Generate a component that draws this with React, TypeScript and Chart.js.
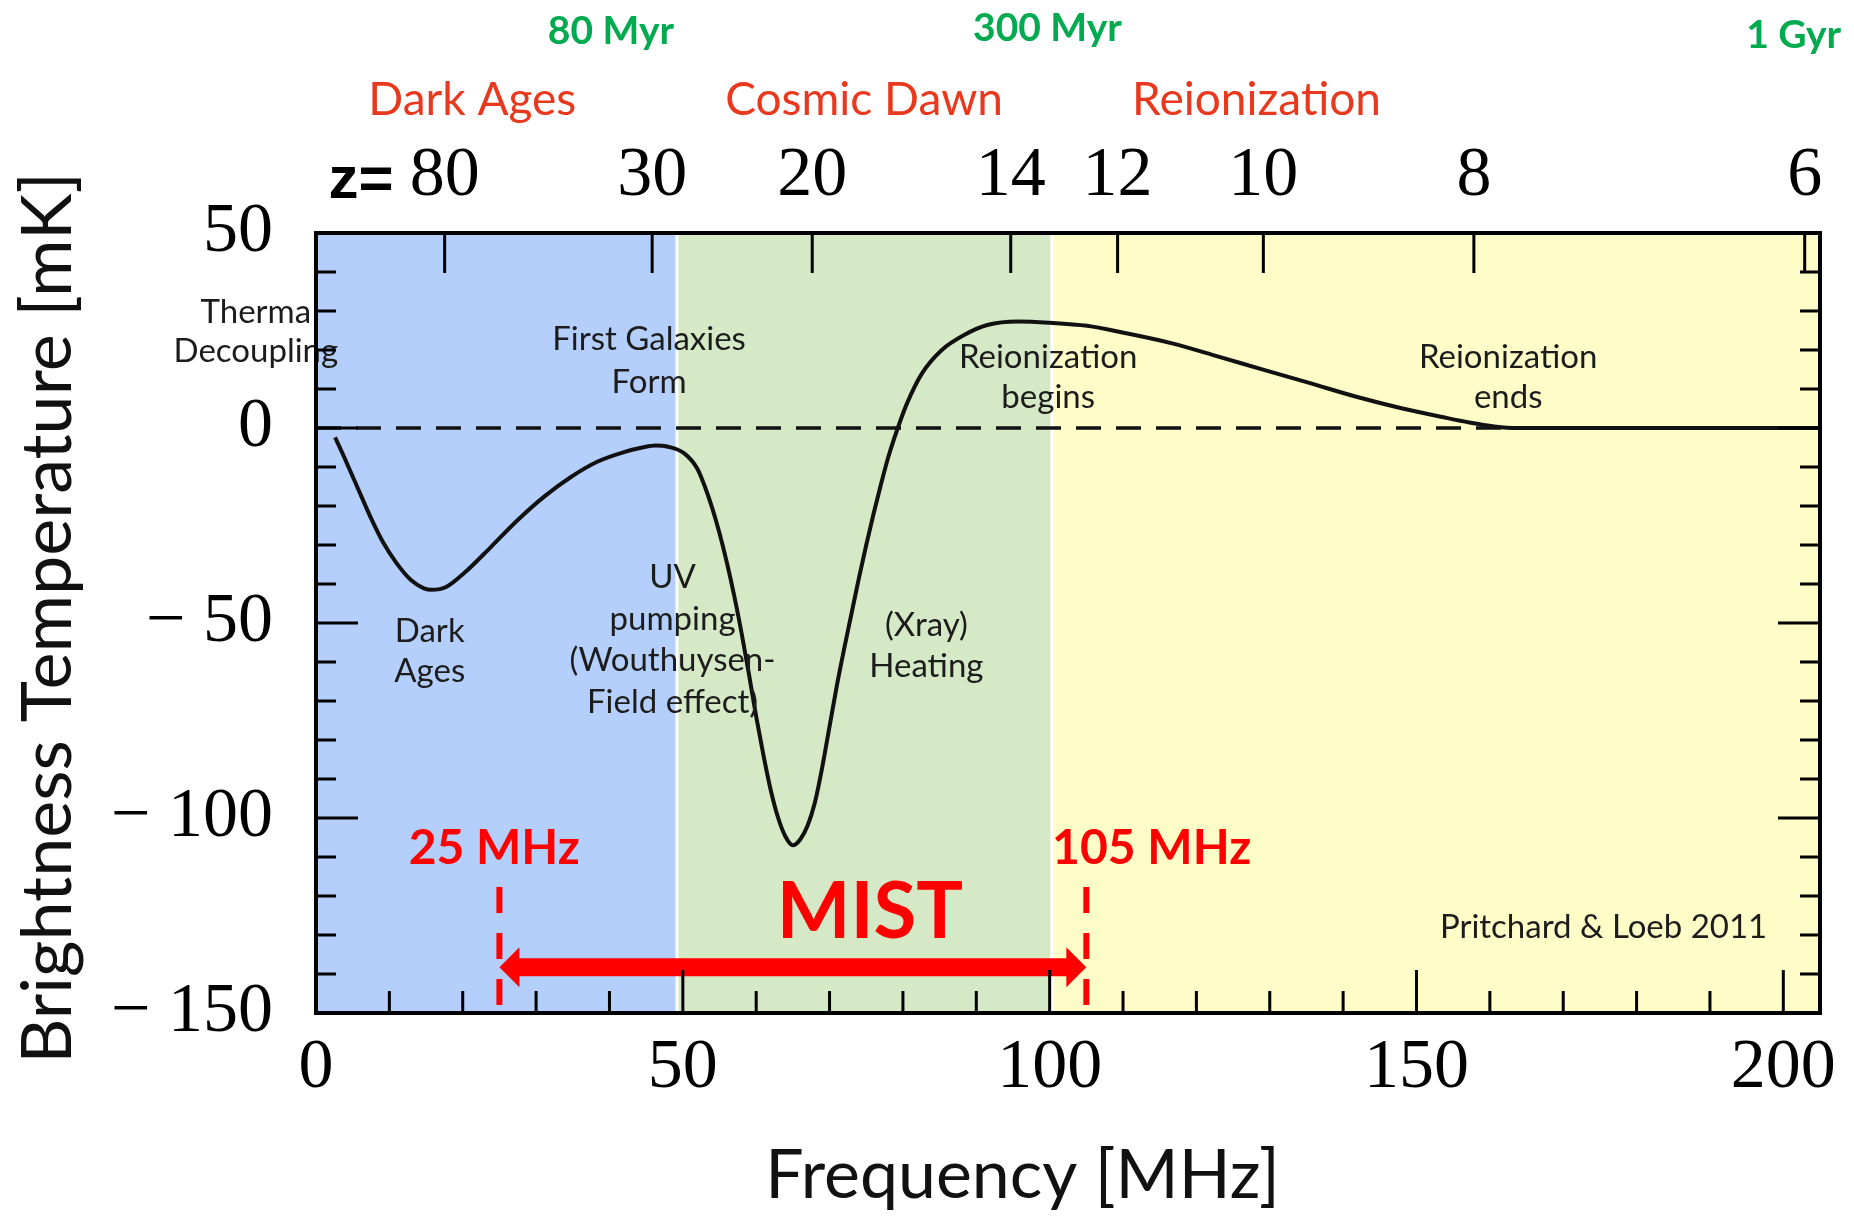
import React, { useEffect, useRef } from "react";
import { Chart, registerables } from "chart.js";

Chart.register(...registerables);

const W = 1854;
const H = 1225;

// ---------------- data ----------------
const curveFreqMHz = [
  2.6, 3.8, 5.6, 7.4, 9.2, 11, 12.9, 14.7, 15.8, 17.8, 20.2, 23.9, 27.5, 31.1,
  34.8, 38.4, 42.1, 44.5, 46.3, 48, 50.2, 52, 53, 54, 55, 56, 57, 58, 59, 60,
  61, 62, 63, 64, 65, 66, 67, 68, 69, 70, 71, 72, 73, 74, 75, 76, 77, 78, 79.3,
  80.6, 82.6, 85.3, 88.4, 91.5, 95.7, 99.9, 105.1, 110.4, 116.7, 123, 129.2,
  135.5, 141.8, 148.1, 153.3, 157.2, 160.6, 163.8, 205,
];
const curveTempMK = [
  -2.4, -7.3, -15, -22.7, -29.5, -34.7, -38.9, -41.1, -41.5, -40.7, -37.2,
  -30.4, -23.6, -17.6, -12.5, -8.6, -6.1, -5, -4.5, -4.8, -6.5, -10.5, -15,
  -20.5, -27, -34.5, -43, -52.5, -63, -74, -84, -93, -100, -104.8, -107,
  -105.5, -102, -96, -87, -76.5, -66, -56.5, -47.5, -38.5, -30, -22, -14.5,
  -7.5, 0, 6.5, 14, 20, 23.9, 26.4, 27.3, 27, 26.2, 24.3, 21.7, 18.3, 14.9,
  11.5, 8, 5, 2.9, 1.4, 0.4, 0, 0,
];
const zeroLineFreqMHz = [0, 164];
const zeroLineTempMK = [0, 0];
const mistBandMHz = [25, 105];
const mistDashTempMK = [-117.7, -148.2];
const mistArrowTempMK = -138.3;

const xTickValues = [0, 50, 100, 150, 200];
const xMinorTickValues = [
  0, 10, 20, 30, 40, 50, 60, 70, 80, 90, 100, 110, 120, 130, 140, 150, 160,
  170, 180, 190, 200,
];
const yTickValues = [50, 0, -50, -100, -150];
const yMinorTickValues = [
  50, 40, 30, 20, 10, 0, -10, -20, -30, -40, -50, -60, -70, -80, -90, -100,
  -110, -120, -130, -140, -150,
];
const redshiftTicks = [80, 30, 20, 14, 12, 10, 8, 6];
const HI_REST_MHZ = 1420.4;

const eraEdgesMHz = [0, 49.2, 100.3, 205];
const eraNames = ["Dark Ages", "Cosmic Dawn", "Reionization"];
const eraLabelMHz = [21.3, 74.7, 128.2];
const cosmicAges = ["80 Myr", "300 Myr", "1 Gyr"];
const cosmicAgeMHz = [40.2, 99.7, 201.4];

const noteTexts = [
  ["Therma", "Decoupling"],
  ["First Galaxies", "Form"],
  ["Dark", "Ages"],
  ["UV", "pumping", "(Wouthuysen-", "Field effect)"],
  ["(Xray)", "Heating"],
  ["Reionization", "begins"],
  ["Reionization", "ends"],
  ["Pritchard & Loeb 2011"],
];
// anchor (MHz, mK of first baseline)
const noteAnchorMHz = [-8.2, 45.4, 15.5, 48.6, 83.2, 99.8, 162.5, 175.5];
const noteAnchorMK = [26.9, 20, -54.9, -41, -53.4, 15.5, 15.5, -130.8];

// ---------------- styles / layout ----------------
const LINE_GAP = [39, 42.6, 40, 41.7, 41, 40.5, 40.5, 0];
const AGE_BASELINE = [44, 41, 48];
const ERA_BASELINE = 115;
const COLORS = {
  eras: ["#B4CFFC", "#D6E9C6", "#FFFDC7"],
  curve: "#111111",
  red: "#FF0000",
  era: "#E8381E",
  age: "#00AA4E",
  note: "#1c1c1c",
};
const TICK_FONT = { family: "'Liberation Serif', serif", size: 70 };

const decorPlugin = {
  id: "decor",
  beforeDatasetsDraw(chart: any) {
    const { ctx, chartArea: ca, scales } = chart;
    const x = scales.x;
    ctx.save();
    for (let i = 0; i < COLORS.eras.length; i++) {
      let x0 = x.getPixelForValue(eraEdgesMHz[i]);
      let x1 = x.getPixelForValue(eraEdgesMHz[i + 1]);
      x0 = Math.max(x0, ca.left);
      x1 = Math.min(x1, ca.right);
      if (i > 0) x0 += 1.5;
      if (i < COLORS.eras.length - 1) x1 -= 1.5;
      ctx.fillStyle = COLORS.eras[i];
      ctx.fillRect(x0, ca.top, x1 - x0, ca.bottom - ca.top);
    }
    ctx.restore();
  },
  afterDatasetsDraw(chart: any) {
    const { ctx, chartArea: ca, scales } = chart;
    const x = scales.x;
    const y = scales.y;
    const xTop = scales.xTop;
    ctx.save();

    // in-plot notes
    ctx.fillStyle = COLORS.note;
    ctx.font = "33px Lato";
    ctx.textAlign = "center";
    ctx.textBaseline = "alphabetic";
    noteTexts.forEach((lines, i) => {
      const px = x.getPixelForValue(noteAnchorMHz[i]);
      const py = y.getPixelForValue(noteAnchorMK[i]);
      lines.forEach((ln, j) => ctx.fillText(ln, px, py + j * LINE_GAP[i]));
    });

    // MIST arrow
    const xL = x.getPixelForValue(mistBandMHz[0]);
    const xR = x.getPixelForValue(mistBandMHz[1]);
    const yA = y.getPixelForValue(mistArrowTempMK);
    const hl = 20, hh = 20, st = 9;
    ctx.fillStyle = COLORS.red;
    ctx.beginPath();
    ctx.moveTo(xL, yA);
    ctx.lineTo(xL + hl, yA - hh);
    ctx.lineTo(xL + hl, yA - st);
    ctx.lineTo(xR - hl, yA - st);
    ctx.lineTo(xR - hl, yA - hh);
    ctx.lineTo(xR, yA);
    ctx.lineTo(xR - hl, yA + hh);
    ctx.lineTo(xR - hl, yA + st);
    ctx.lineTo(xL + hl, yA + st);
    ctx.lineTo(xL + hl, yA + hh);
    ctx.closePath();
    ctx.fill();

    // red labels
    ctx.font = "bold 48px Lato";
    const labY = y.getPixelForValue(-111.8);
    ctx.fillText(`${mistBandMHz[0]} MHz`, x.getPixelForValue(24.3), labY);
    ctx.fillText(`${mistBandMHz[1]} MHz`, x.getPixelForValue(113.9), labY);
    ctx.font = "bold 78px Lato";
    ctx.fillText("MIST", x.getPixelForValue(75.5), y.getPixelForValue(-130.8));

    // ticks
    ctx.strokeStyle = "#000";
    ctx.lineWidth = 3;
    ctx.beginPath();
    xMinorTickValues.forEach((v) => {
      const len = xTickValues.includes(v) ? 43 : 22;
      const px = x.getPixelForValue(v);
      ctx.moveTo(px, ca.bottom);
      ctx.lineTo(px, ca.bottom - len);
    });
    xTop.ticks.forEach((t: any) => {
      const px = xTop.getPixelForValue(t.value);
      ctx.moveTo(px, ca.top);
      ctx.lineTo(px, ca.top + 40);
    });
    yMinorTickValues.forEach((v) => {
      const len = yTickValues.includes(v) ? 42 : 20;
      const py = y.getPixelForValue(v);
      ctx.moveTo(ca.left, py);
      ctx.lineTo(ca.left + len, py);
      ctx.moveTo(ca.right, py);
      ctx.lineTo(ca.right - len, py);
    });
    ctx.stroke();
    ctx.lineWidth = 4;
    ctx.strokeRect(ca.left, ca.top, ca.right - ca.left, ca.bottom - ca.top);

    // "z=" prefix before first redshift label
    ctx.font = `${TICK_FONT.size}px ${TICK_FONT.family}`;
    const firstLabel = String(redshiftTicks[0]);
    const halfW = ctx.measureText(firstLabel).width / 2;
    const firstPx = xTop.getPixelForValue(HI_REST_MHZ / (1 + redshiftTicks[0]));
    ctx.font = "bold 60px 'Liberation Sans'";
    ctx.fillStyle = "#000";
    ctx.textAlign = "right";
    ctx.fillText("z=", firstPx - halfW - 16, 198);

    // epoch labels above
    ctx.textAlign = "center";
    ctx.font = "46px Lato";
    ctx.fillStyle = COLORS.era;
    eraNames.forEach((n, i) => ctx.fillText(n, x.getPixelForValue(eraLabelMHz[i]), ERA_BASELINE));
    ctx.font = "bold 39px Lato";
    ctx.fillStyle = COLORS.age;
    cosmicAges.forEach((n, i) => ctx.fillText(n, x.getPixelForValue(cosmicAgeMHz[i]), AGE_BASELINE[i]));

    // axis titles
    ctx.fillStyle = "#111";
    ctx.font = "68px Lato";
    ctx.fillText("Frequency [MHz]", x.getPixelForValue(96.3), ca.bottom + 185);
    ctx.save();
    ctx.translate(71, y.getPixelForValue(-48.7));
    ctx.rotate(-Math.PI / 2);
    ctx.font = "70px Lato";
    ctx.fillText("Brightness Temperature [mK]", 0, 0);
    ctx.restore();

    ctx.restore();
  },
};

export default function App() {
  const ref = useRef<HTMLCanvasElement | null>(null);
  useEffect(() => {
    let chart: Chart | null = null;
    let cancelled = false;
    const fonts = ["33px Lato", "bold 48px Lato", "70px 'Liberation Serif'", "bold 60px 'Liberation Sans'"];
    Promise.all(fonts.map((f) => (document as any).fonts.load(f).catch(() => null))).then(() => {
      if (cancelled || !ref.current) return;
      const xy = (xs: number[], ys: number[]) => xs.map((v, i) => ({ x: v, y: ys[i] }));
      chart = new Chart(ref.current, {
        type: "scatter",
        data: {
          datasets: [
            {
              data: xy(curveFreqMHz, curveTempMK),
              showLine: true,
              borderColor: COLORS.curve,
              borderWidth: 4,
              pointRadius: 0,
              cubicInterpolationMode: "monotone",
            },
            {
              data: xy(zeroLineFreqMHz, zeroLineTempMK),
              showLine: true,
              borderColor: "#111",
              borderWidth: 3.5,
              borderDash: [25, 15],
              pointRadius: 0,
            },
            {
              data: xy([mistBandMHz[0], mistBandMHz[0]], mistDashTempMK),
              showLine: true,
              borderColor: COLORS.red,
              borderWidth: 6,
              borderDash: [26, 20],
              pointRadius: 0,
            },
            {
              data: xy([mistBandMHz[1], mistBandMHz[1]], mistDashTempMK),
              showLine: true,
              borderColor: COLORS.red,
              borderWidth: 6,
              borderDash: [26, 20],
              pointRadius: 0,
            },
          ],
        } as any,
        options: {
          responsive: false,
          animation: false,
          events: [],
          layout: { padding: { left: 0, right: 34, top: 0, bottom: 0 } },
          plugins: { legend: { display: false }, tooltip: { enabled: false } },
          scales: {
            x: {
              type: "linear",
              position: "bottom",
              min: 0,
              max: 205,
              grid: { display: false, drawTicks: false },
              border: { display: false },
              afterBuildTicks: (s: any) => {
                s.ticks = xTickValues.map((v) => ({ value: v }));
              },
              afterFit: (s: any) => {
                s.height = 212;
              },
              ticks: {
                autoSkip: false,
                maxRotation: 0,
                padding: 14,
                color: "#000",
                font: TICK_FONT,
                callback: (v: any) => String(v),
              },
            },
            xTop: {
              type: "linear",
              position: "top",
              axis: "x",
              min: 0,
              max: 205,
              grid: { display: false, drawTicks: false },
              border: { display: false },
              afterBuildTicks: (s: any) => {
                s.ticks = redshiftTicks.map((z) => ({ value: HI_REST_MHZ / (1 + z) }));
              },
              afterFit: (s: any) => {
                s.height = 233;
              },
              ticks: {
                autoSkip: false,
                maxRotation: 0,
                padding: 14,
                color: "#000",
                font: TICK_FONT,
                callback: (_v: any, i: number) => String(redshiftTicks[i]),
              },
            },
            y: {
              type: "linear",
              position: "left",
              min: -150,
              max: 50,
              grid: { display: false, drawTicks: false },
              border: { display: false },
              afterBuildTicks: (s: any) => {
                s.ticks = yTickValues.map((v) => ({ value: v }));
              },
              afterFit: (s: any) => {
                s.width = 316;
              },
              ticks: {
                padding: 43,
                color: "#000",
                font: TICK_FONT,
                callback: (v: any) => (v < 0 ? "\u2212 " + Math.abs(v) : String(v)),
              },
            },
          },
        } as any,
        plugins: [decorPlugin],
      });
    });
    return () => {
      cancelled = true;
      if (chart) chart.destroy();
    };
  }, []);
  return (
    <div style={{ position: "absolute", left: 0, top: 0, width: W, height: H, background: "#fff" }}>
      <canvas ref={ref} width={W} height={H} style={{ width: W, height: H, display: "block" }} />
    </div>
  );
}
